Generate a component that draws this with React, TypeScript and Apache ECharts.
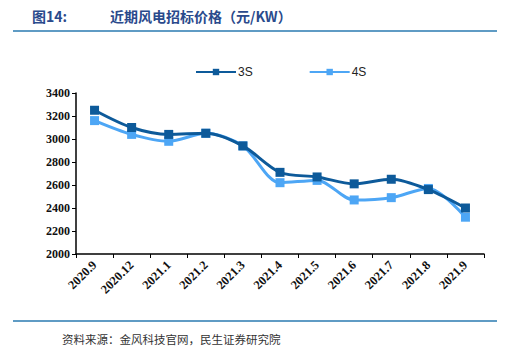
import React, { useEffect, useRef } from "react";
import * as echarts from "echarts";

const categories = ["2020.9", "2020.12", "2021.1", "2021.2", "2021.3", "2021.4", "2021.5", "2021.6", "2021.7", "2021.8", "2021.9"];
const series3S = [3250, 3100, 3040, 3050, 2940, 2710, 2670, 2610, 2650, 2560, 2400];
const series4S = [3160, 3040, 2980, 3050, 2940, 2620, 2640, 2470, 2490, 2570, 2320];
const yTicks = { min: 2000, max: 3400, interval: 200 };

export default function App() {
  const ref = useRef<HTMLDivElement>(null);
  useEffect(() => {
    if (!ref.current) return;
    const chart = echarts.init(ref.current, null, { renderer: "svg" });
    const serif = "'Liberation Serif', 'Times New Roman', serif";
    chart.setOption({
      animation: false,
      backgroundColor: "#fff",
      grid: { left: 76, right: 22, top: 93, bottom: 106, containLabel: false },
      legend: {
        top: 61,
        left: 190,
        itemGap: 56,
        itemWidth: 40,
        itemHeight: 8,
        textStyle: { fontFamily: "Arial, 'Liberation Sans', sans-serif", fontSize: 12, color: "#222", padding: [0, 0, 0, -3] },
        data: [
          { name: "3S", itemStyle: { color: "#0d5a9a" } },
          { name: "4S", itemStyle: { color: "#4da6f5" } },
        ],
      },
      xAxis: {
        type: "category",
        data: categories,
        boundaryGap: true,
        axisLine: { lineStyle: { color: "#000", width: 1.5 } },
        axisTick: { show: true, alignWithLabel: false, length: 4, lineStyle: { color: "#000" } },
        axisLabel: {
          rotate: 45,
          interval: 0,
          fontFamily: serif,
          fontWeight: "bold",
          fontSize: 12.5,
          color: "#111",
          margin: 9,
        },
      },
      yAxis: {
        type: "value",
        min: yTicks.min,
        max: yTicks.max,
        interval: yTicks.interval,
        splitLine: { show: false },
        axisLine: { show: true, lineStyle: { color: "#000", width: 1.5 } },
        axisTick: { show: true, length: 4, lineStyle: { color: "#000" } },
        axisLabel: {
          fontFamily: serif,
          fontWeight: "bold",
          fontSize: 12,
          color: "#111",
          margin: 6,
          formatter: (v: number) => String(v),
        },
      },
      series: [
        {
          name: "3S",
          type: "line",
          data: series3S,
          smooth: 0.3,
          symbol: "rect",
          symbolSize: 9,
          z: 3,
          lineStyle: { color: "#0d5a9a", width: 3 },
          itemStyle: { color: "#0d5a9a" },
        },
        {
          name: "4S",
          type: "line",
          data: series4S,
          smooth: 0.3,
          symbol: "rect",
          symbolSize: 9,
          z: 2,
          lineStyle: { color: "#4da6f5", width: 3 },
          itemStyle: { color: "#4da6f5" },
        },
      ],
      graphic: [
        {
          type: "text",
          left: 32,
          top: 9,
          style: { text: "图14:", fontFamily: "'Noto Sans CJK SC', serif", fontWeight: "bold", fontSize: 14, fill: "#2a4a8c" },
        },
        {
          type: "text",
          left: 110,
          top: 9,
          style: { text: "近期风电招标价格（元/KW）", fontFamily: "'Noto Sans CJK SC', serif", fontWeight: "bold", fontSize: 14, fill: "#2a4a8c" },
        },
        {
          type: "line",
          shape: { x1: 13, y1: 31, x2: 497, y2: 31 },
          style: { stroke: "#2a7ab0", lineWidth: 1.5 },
        },
        {
          type: "line",
          shape: { x1: 13, y1: 321, x2: 497, y2: 321 },
          style: { stroke: "#2a7ab0", lineWidth: 1.5 },
        },
        {
          type: "text",
          left: 62,
          top: 333,
          style: { text: "资料来源：金风科技官网，民生证券研究院", fontFamily: "'Noto Sans CJK SC', sans-serif", fontSize: 11.5, fill: "#333", letterSpacing: 1.5 },
        },
      ],
    });
    return () => chart.dispose();
  }, []);
  return <div ref={ref} style={{ width: 506, height: 360, position: "absolute", left: 0, top: 0 }} />;
}
